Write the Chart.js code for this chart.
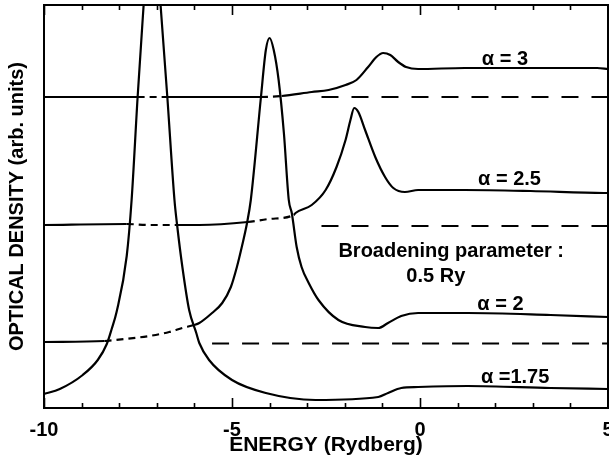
<!DOCTYPE html>
<html><head><meta charset="utf-8">
<script src="https://cdn.jsdelivr.net/npm/chart.js@4.4.0/dist/chart.umd.min.js"></script>
<style>html,body{margin:0;padding:0;background:#fff;overflow:hidden}canvas{display:block}</style>
</head><body><canvas id="c" width="609" height="461"></canvas>
<script>
// ---- data (energy in Rydberg, optical density in arb. units incl. vertical offset) ----
const xTickValues = [-10, -5, 0, 5];

const energyA3  = [-10.00,-7.51,-6.72,-4.23,-3.68,-2.88,-2.43,-1.98,-1.69,-1.38,-1.16,-0.98,-0.79,-0.58,-0.37,-0.05,1.19,4.71,5.00];
const densityA3 = [31.1,31.1,31.1,31.1,31.2,31.6,31.8,32.3,32.8,34.1,35.1,35.5,35.3,34.6,34.1,33.9,34.0,34.0,33.9];

const energyA25  = [-10.00,-7.80,-7.20,-6.46,-5.87,-4.58,-4.02,-3.36,-3.31,-2.88,-2.51,-2.22,-1.98,-1.85,-1.75,-1.64,-1.46,-1.19,-0.93,-0.71,-0.40,-0.05,1.19,2.94,4.89,5.00];
const densityA25 = [18.3,18.4,18.3,18.3,18.3,18.6,18.9,19.3,19.5,20.3,21.8,24.1,26.8,28.8,30.0,29.6,27.8,25.1,23.1,22.0,21.6,21.8,21.8,21.7,21.5,21.5];

const energyA2  = [-10.00,-8.39,-8.12,-7.20,-6.67,-6.32,-6.01,-5.87,-5.53,-5.26,-5.03,-4.87,-4.74,-4.60,-4.50,-4.23,-4.10,-4.00,-3.89,-3.76,-3.62,-3.49,-3.41,-3.28,-3.15,-2.96,-2.70,-2.17,-1.46,-1.11,-0.85,-0.50,-0.05,1.27,3.47,5.00];
const densityA2 = [6.6,6.7,6.8,7.2,7.6,8.0,8.3,8.5,9.5,10.5,12.1,14.1,16.1,18.5,20.8,31.1,35.8,37.0,35.8,32.8,27.5,20.8,19.5,16.1,14.1,12.5,10.8,8.8,8.1,8.0,8.5,9.2,9.5,9.5,9.3,9.1];

const energyA175  = [-10.00,-9.58,-8.97,-8.57,-8.33,-8.20,-8.07,-7.80,-7.67,-7.51,-7.35,-7.14,-6.90,-6.72,-6.53,-6.46,-6.32,-6.14,-5.95,-5.87,-5.61,-5.00,-4.10,-2.78,-1.11,-0.85,-0.50,-0.05,1.27,3.47,5.00];
const densityA175 = [1.4,1.9,3.3,4.8,6.4,7.9,9.6,15.2,20.8,31.1,40.3,52.0,40.3,31.1,20.8,18.3,14.1,9.8,7.5,6.5,4.8,2.8,1.5,0.8,1.1,1.5,2.0,2.1,2.2,2.0,1.9];

// zero-levels (dashed reference lines)
const baseEnergyA3  = [-2.62, 5];  const baseA3  = [31.1, 31.1];
const baseEnergyA25 = [-2.62, 5];  const baseA25 = [18.2, 18.2];
const baseEnergyA2  = [-5.53, 5];  const baseA2  = [6.45, 6.45];

// energy ranges where a curve passes behind a stronger peak (drawn dashed)
const hiddenA3  = [[-7.51,-6.72],[-4.23,-3.68]];
const hiddenA25 = [[-7.80,-6.46],[-4.58,-3.36]];
const hiddenA2  = [[-8.39,-6.01]];
const hiddenA175 = [];

const seriesLabels = ['α = 3','α = 2.5','α = 2','α =1.75'];
const notes = [
  {text:'α = 3', x:2.26, y:34.3},
  {text:'α = 2.5', x:2.38, y:22.3},
  {text:'Broadening parameter :', x:0.83, y:15.1},
  {text:'0.5 Ry', x:0.42, y:12.6},
  {text:'α = 2', x:2.14, y:9.8},
  {text:'α =1.75', x:2.53, y:2.5}
];

// ---- build ----
const FONT = '"Liberation Sans", Arial, Helvetica, sans-serif';
Chart.defaults.font.family = FONT;
Chart.defaults.color = '#000';

const pts = (xs, ys) => xs.map((x, i) => ({x, y: ys[i]}));
function curve(label, xs, ys, hidden) {
  return {
    label, data: pts(xs, ys), borderColor:'#000', borderWidth:2.2, pointRadius:0,
    cubicInterpolationMode:'monotone', fill:false,
    segment: { borderDash: ctx => {
      const a = ctx.p0.parsed.x, b = ctx.p1.parsed.x;
      return hidden.some(r => a >= r[0] - 1e-6 && b <= r[1] + 1e-6) ? [7,5] : undefined;
    }}
  };
}
function base(xs, ys) {
  return { label:'base', data: pts(xs, ys), borderColor:'#000', borderWidth:2, pointRadius:0,
    borderDash:[17,13], fill:false };
}

const decor = {
  id:'decor',
  afterDraw(chart) {
    const {ctx, chartArea:a, scales} = chart;
    const xs = scales.x, ys = scales.y;
    ctx.save();
    ctx.strokeStyle = '#000'; ctx.lineWidth = 1.6;
    for (let v = -10; v <= 5; v++) {
      const px = Math.round(xs.getPixelForValue(v)) + 0.5;
      const len = (v % 5 === 0) ? 10 : 5;
      ctx.beginPath();
      ctx.moveTo(px, a.bottom); ctx.lineTo(px, a.bottom - len);
      ctx.moveTo(px, a.top); ctx.lineTo(px, a.top + len);
      ctx.stroke();
    }
    ctx.fillStyle = '#000';
    ctx.font = 'bold 20px ' + FONT;
    ctx.textAlign = 'center'; ctx.textBaseline = 'alphabetic';
    notes.forEach(n => ctx.fillText(n.text, xs.getPixelForValue(n.x), ys.getPixelForValue(n.y)));
    ctx.restore();
  }
};

const noGrid = {drawOnChartArea:false, drawTicks:false};
const frame = {display:true, color:'#000', width:2};

new Chart(document.getElementById('c'), {
  type:'line',
  data:{ datasets:[
    curve(seriesLabels[0], energyA3, densityA3, hiddenA3),
    curve(seriesLabels[1], energyA25, densityA25, hiddenA25),
    curve(seriesLabels[2], energyA2, densityA2, hiddenA2),
    curve(seriesLabels[3], energyA175, densityA175, hiddenA175),
    base(baseEnergyA3, baseA3), base(baseEnergyA25, baseA25), base(baseEnergyA2, baseA2)
  ]},
  options:{
    responsive:false, animation:false,
    layout:{padding:{left:0, right:1, top:5, bottom:0}},
    plugins:{legend:{display:false}, tooltip:{enabled:false}},
    scales:{
      x:{ type:'linear', position:'bottom', min:-10, max:5,
          grid:noGrid, border:frame,
          afterBuildTicks: s => { s.ticks = xTickValues.map(v => ({value:v})); },
          ticks:{ autoSkip:false, maxRotation:0, padding:10, font:{size:20, weight:'bold'}, color:'#000',
                  callback: v => String(v) },
          title:{ display:true, text:'ENERGY (Rydberg)', font:{size:21, weight:'bold'}, color:'#000',
                  padding:{top:0, bottom:3} },
          afterFit: s => { s.height = 53; s.paddingLeft = 0; s.paddingRight = 0; } },
      x2:{ type:'linear', position:'top', min:-10, max:5, grid:noGrid, border:frame,
          ticks:{display:false}, afterFit: s => { s.height = 0; } },
      y:{ type:'linear', position:'left', min:0, max:40.3, grid:noGrid, border:frame,
          ticks:{display:false},
          title:{ display:true, text:'OPTICAL DENSITY (arb. units)', font:{size:20, weight:'bold'}, color:'#000',
                  padding:{top:5, bottom:15} },
          afterFit: s => { s.width = 44; } },
      y2:{ type:'linear', position:'right', min:0, max:40.3, grid:noGrid, border:frame,
          ticks:{display:false}, afterFit: s => { s.width = 0; } }
    }
  },
  plugins:[decor]
});
</script></body></html>
